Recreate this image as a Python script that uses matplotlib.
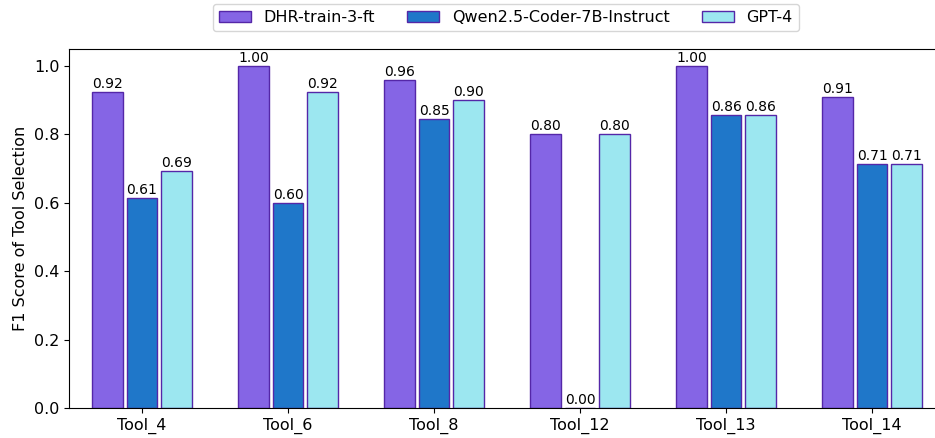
import numpy as np
import matplotlib.pyplot as plt

tools = ["Tool_4", "Tool_6", "Tool_8", "Tool_12", "Tool_13", "Tool_14"]
dhr = [0.923, 1.00, 0.96, 0.80, 1.00, 0.91]
qwen = [0.615, 0.60, 0.846, 0.00, 0.857, 0.714]
gpt4 = [0.692, 0.923, 0.90, 0.80, 0.857, 0.714]
labels = ["DHR-train-3-ft", "Qwen2.5-Coder-7B-Instruct", "GPT-4"]
colors = ["#8565E5", "#1F77C9", "#9CE7F0"]

fig = plt.figure(figsize=(9.35, 4.38), dpi=100)
ax = fig.add_axes([0.0738, 0.0685, 0.937, 0.82])

x = np.arange(len(tools))
width = 0.21
offset = 0.235
for i, (vals, lab, col) in enumerate(zip([dhr, qwen, gpt4], labels, colors)):
    bars = ax.bar(x + (i - 1) * offset, vals, width, color=col,
                  edgecolor="#5427A8", linewidth=1, label=lab)
    for b, v in zip(bars, vals):
        ax.text(b.get_x() + b.get_width() / 2, v + 0.003, f"{v:.2f}",
                ha="center", va="bottom", fontsize=10)

ax.set_xticks(x)
ax.set_xticklabels(tools, fontsize=11.5)
ax.tick_params(axis="y", labelsize=11.5)
ax.set_ylabel("F1 Score of Tool Selection", fontsize=11.5)
ax.set_xlim(-0.5, 5.5)
ax.set_ylim(0, 1.05)

# original figure was wider and cropped on the right, so the legend sits off-centre
fig.legend(loc="upper center", bbox_to_anchor=(0.541, 1.01), ncol=3,
           fontsize=11.5, frameon=True)

fig.savefig("out.png", dpi=100)
